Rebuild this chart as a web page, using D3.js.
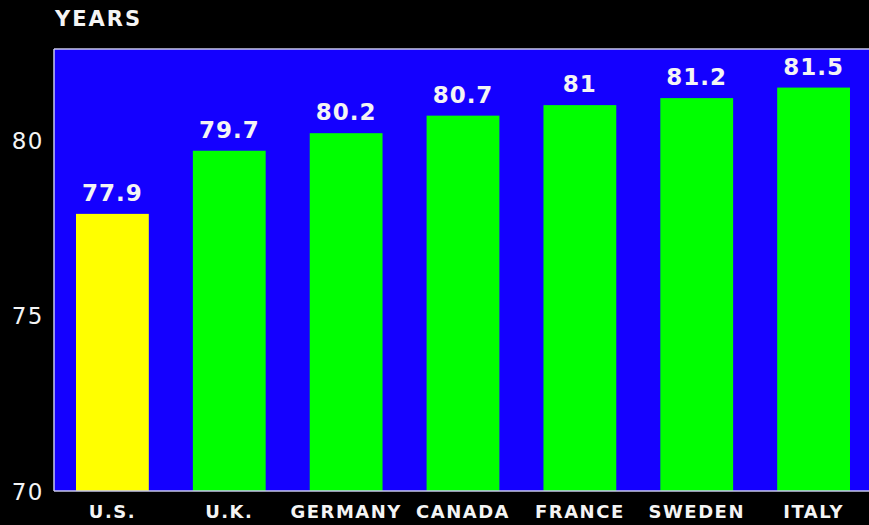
<!DOCTYPE html>
<html>
<head>
<meta charset="utf-8">
<script src="https://cdn.jsdelivr.net/npm/d3@7"></script>
<style>
  html, body { margin: 0; padding: 0; background: #000; }
  svg { display: block; }
</style>
</head>
<body>
<svg id="chart" width="869" height="525"></svg>
<script>
// Life expectancy at birth, in years
const countries = ["U.S.", "U.K.", "GERMANY", "CANADA", "FRANCE", "SWEDEN", "ITALY"];
const years = [77.9, 79.7, 80.2, 80.7, 81, 81.2, 81.5];
const yTicks = [70, 75, 80];
const yLabel = "YEARS";

const W = 869, H = 525;
const plot = { left: 54, right: 869, top: 49, bottom: 491 };

const svg = d3.select("#chart");
svg.append("rect").attr("width", W).attr("height", H).attr("fill", "#000");

const x = d3.scaleBand()
  .domain(countries)
  .range([76, 850])
  .paddingInner(0.377)
  .paddingOuter(0);

const y = d3.scaleLinear()
  .domain([70, 82.6])
  .range([plot.bottom, plot.top]);

// plot background
svg.append("rect")
  .attr("x", plot.left).attr("y", plot.top)
  .attr("width", plot.right - plot.left)
  .attr("height", plot.bottom - plot.top)
  .attr("fill", "#1400ff");

// bars
svg.append("g").selectAll("rect")
  .data(countries)
  .join("rect")
  .attr("x", d => x(d))
  .attr("width", x.bandwidth())
  .attr("y", (d, i) => y(years[i]))
  .attr("height", (d, i) => y(70) - y(years[i]))
  .attr("fill", (d, i) => i === 0 ? "#ffff00" : "#00ff00");

// value labels
svg.append("g").selectAll("text")
  .data(countries)
  .join("text")
  .attr("x", d => x(d) + x.bandwidth() / 2)
  .attr("y", (d, i) => y(years[i]) - 13)
  .attr("text-anchor", "middle")
  .attr("fill", "#f4f4f4")
  .style("font-family", "'DejaVu Sans', sans-serif")
  .style("font-weight", "bold")
  .style("font-size", "23px")
  .style("letter-spacing", "1px")
  .text((d, i) => String(years[i]));

// frame lines on left, top and bottom
const frame = svg.append("g").attr("stroke", "#c8c8ec").attr("stroke-width", 1.5);
frame.append("line").attr("x1", plot.left).attr("x2", plot.right).attr("y1", plot.top).attr("y2", plot.top);
frame.append("line").attr("x1", plot.left).attr("x2", plot.left).attr("y1", plot.top).attr("y2", plot.bottom);
frame.append("line").attr("x1", plot.left).attr("x2", plot.right).attr("y1", plot.bottom).attr("y2", plot.bottom);

// y axis
const yAxis = svg.append("g")
  .attr("transform", `translate(${plot.left - 10},0)`)
  .call(d3.axisLeft(y).tickValues(yTicks).tickSize(0).tickPadding(0));
yAxis.select(".domain").remove();
yAxis.selectAll("text")
  .attr("fill", "#f4f4f4")
  .attr("dy", "0.36em")
  .style("font-family", "'DejaVu Sans', sans-serif")
  .style("font-size", "23px")
  .style("letter-spacing", "1.5px");

// x axis
const xAxis = svg.append("g")
  .attr("transform", `translate(0,${plot.bottom})`)
  .call(d3.axisBottom(x).tickSize(0).tickPadding(0));
xAxis.select(".domain").remove();
xAxis.selectAll("text")
  .attr("fill", "#f4f4f4")
  .attr("y", 27)
  .attr("dy", 0)
  .style("font-family", "'DejaVu Sans', sans-serif")
  .style("font-weight", "bold")
  .style("font-size", "18px")
  .style("letter-spacing", "1.5px");

// unit label
svg.append("text")
  .attr("x", 55).attr("y", 26)
  .attr("fill", "#f4f4f4")
  .style("font-family", "'DejaVu Sans', sans-serif")
  .style("font-weight", "bold")
  .style("font-size", "21px")
  .style("letter-spacing", "2px")
  .text(yLabel);
</script>
</body>
</html>
